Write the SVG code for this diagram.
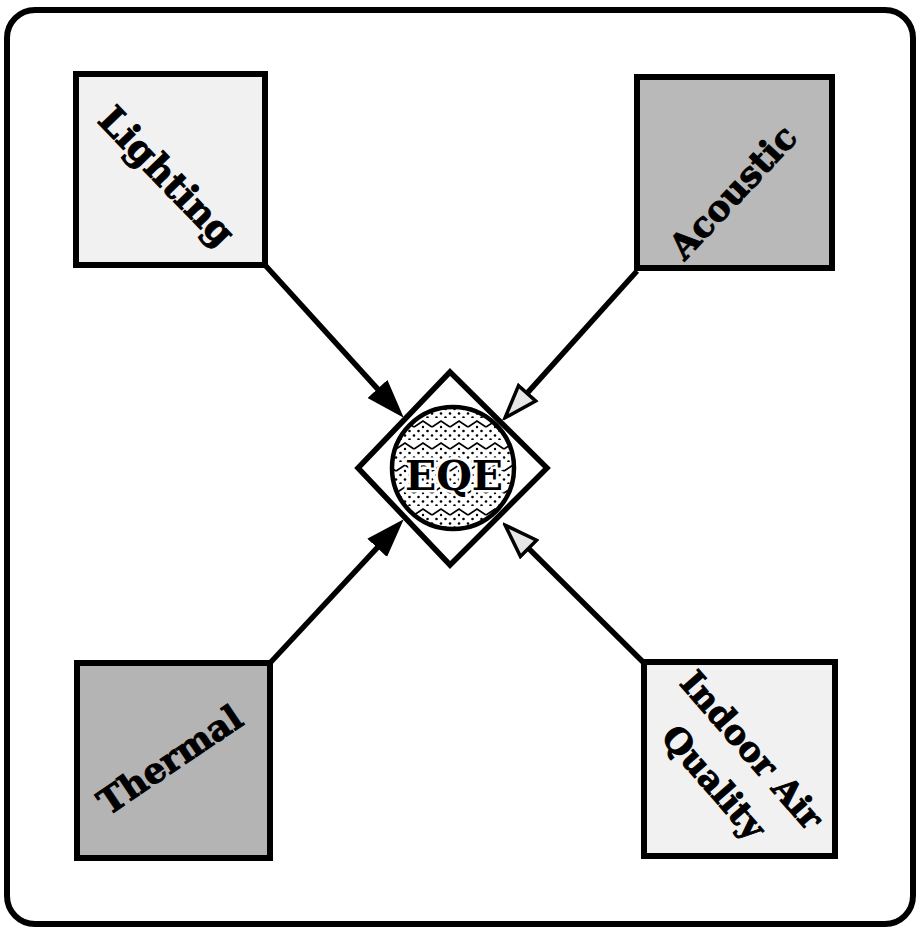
<svg xmlns="http://www.w3.org/2000/svg" width="917" height="930" viewBox="0 0 917 930">
<style>
.box{stroke:#000;stroke-width:6}
.lbl{font-family:"DejaVu Serif","Liberation Serif",serif;font-weight:bold;fill:#000;stroke:#000;stroke-width:1;text-anchor:middle}
.conn{stroke:#000;stroke-width:5.5;fill:none}
</style>
<defs>
<pattern id="zig" x="0" y="0" width="18" height="22" patternUnits="userSpaceOnUse">
<rect width="18" height="22" fill="#fff"/>
<polyline points="0,9 9,3 18,9" fill="none" stroke="#000" stroke-width="1.8"/>
<circle cx="4.5" cy="13" r="1.3" fill="#000"/>
<circle cx="13.5" cy="13" r="1.3" fill="#000"/>
<circle cx="0" cy="17.5" r="1.3" fill="#000"/>
<circle cx="9" cy="17.5" r="1.3" fill="#000"/>
<circle cx="18" cy="17.5" r="1.3" fill="#000"/>
<circle cx="4.5" cy="21.5" r="1.3" fill="#000"/>
<circle cx="13.5" cy="21.5" r="1.3" fill="#000"/>
<circle cx="9" cy="9" r="1.2" fill="#000"/>
</pattern>
<marker id="ahFill" markerUnits="userSpaceOnUse" viewBox="0 0 38 28" markerWidth="38" markerHeight="28" refX="18" refY="14" orient="auto">
<path d="M1,2 L36,14 L1,26 Z" fill="#000" stroke="#000" stroke-width="2"/>
</marker>
<marker id="ahOpen" markerUnits="userSpaceOnUse" viewBox="0 0 38 28" markerWidth="38" markerHeight="28" refX="18" refY="14" orient="auto">
<path d="M2,2.5 L35,14 L2,25.5 Z" fill="#e6e6e6" stroke="#000" stroke-width="3.5" stroke-linejoin="miter"/>
</marker>
</defs>
<rect x="7" y="10" width="906" height="914" rx="28" fill="#fff" stroke="#000" stroke-width="6"/>
<g id="connectors">
<line class="conn" x1="265" y1="265" x2="389.6" y2="402.2" marker-end="url(#ahFill)"/>
<line class="conn" x1="637" y1="271" x2="516.4" y2="405.2" marker-end="url(#ahOpen)"/>
<line class="conn" x1="270" y1="663" x2="389.4" y2="534.6" marker-end="url(#ahFill)"/>
<line class="conn" x1="644" y1="663" x2="517.2" y2="537.1" marker-end="url(#ahOpen)"/>
</g>
<g id="lighting">
<rect class="box" x="76" y="74" width="189" height="191" fill="#f1f1f1"/>
<text class="lbl" font-size="37" transform="translate(167,176) rotate(46)" y="13">Lighting</text>
</g>
<g id="acoustic">
<rect class="box" x="637" y="77" width="195" height="191" fill="#b9b9b9"/>
<text class="lbl" font-size="35" transform="translate(733,192) rotate(-47)" y="12">Acoustic</text>
</g>
<g id="thermal">
<rect class="box" x="77" y="663" width="193" height="195" fill="#b4b4b4"/>
<text class="lbl" font-size="35" transform="translate(170,760) rotate(-34)" y="12">Thermal</text>
</g>
<g id="iaq">
<rect class="box" x="644" y="662" width="191" height="194" fill="#f1f1f1"/>
<text class="lbl" font-size="34" transform="translate(752,750) rotate(49)" y="12">Indoor Air</text>
<text class="lbl" font-size="34" transform="translate(714,782) rotate(49)" y="12">Quality</text>
</g>
<g id="eqe">
<path d="M450,372 L547,468 L450,565 L358,468 Z" fill="#fff" stroke="#000" stroke-width="5.5" stroke-linejoin="miter"/>
<circle cx="453" cy="468" r="61" fill="url(#zig)" stroke="#000" stroke-width="4.5"/>
<text x="454" y="490" font-family="DejaVu Serif, Liberation Serif, serif" font-weight="bold" font-size="41" text-anchor="middle" fill="#000" stroke="#fff" stroke-width="5" paint-order="stroke">EQE</text>
</g>
</svg>
